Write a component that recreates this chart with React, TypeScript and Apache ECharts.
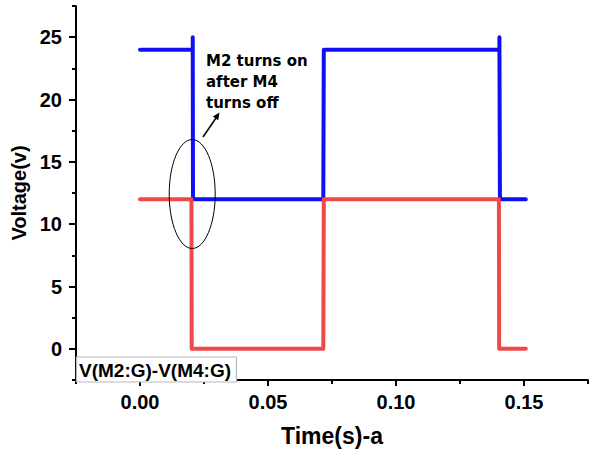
import React, { useEffect, useRef } from "react";
import * as echarts from "echarts";

const blueSeries: [number, number][] = [
  [0, 24], [0.0206, 24], [0.0206, 25], [0.0207, 12], [0.0716, 12], [0.0718, 24],
  [0.1404, 24], [0.1404, 25], [0.1406, 12], [0.1507, 12],
];
const redSeries: [number, number][] = [
  [0, 12], [0.0201, 12], [0.0202, 0], [0.0716, 0], [0.0718, 12],
  [0.1402, 12], [0.1403, 0], [0.1507, 0],
];
const xMajorTicks = [0, 0.05, 0.1, 0.15];
const xMinorTicks = [-0.025, 0.025, 0.075, 0.125, 0.175];
const yMajorTicks = [0, 5, 10, 15, 20, 25];
const yMinorTicks = [-2.5, 2.5, 7.5, 12.5, 17.5, 22.5, 27.5];
const legendText = "V(M2:G)-V(M4:G)";
const annotationText = "M2 turns on\nafter M4\nturns off";

const FONT = "Arial, 'Liberation Sans', sans-serif";

export default function App() {
  const ref = useRef<HTMLDivElement>(null);
  useEffect(() => {
    if (!ref.current) return;
    const chart = echarts.init(ref.current, null, { renderer: "svg" });
    const axisLine = { show: true, onZero: false, lineStyle: { color: "#000", width: 2 } };
    const hiddenAxisLabel = { show: false };
    chart.setOption({
      animation: false,
      backgroundColor: "#fff",
      grid: { left: 76, right: 4, top: 6, bottom: 70 },
      xAxis: [
        {
          type: "value", min: -0.025, max: 0.175,
          name: "Time(s)-a", nameLocation: "middle", nameGap: 44,
          nameTextStyle: { fontFamily: FONT, fontWeight: "bold", fontSize: 23, color: "#000" },
          axisLine,
          axisTick: { show: true, length: 6, customValues: xMajorTicks, lineStyle: { color: "#000", width: 2 } },
          axisLabel: {
            show: true, customValues: xMajorTicks, margin: 12,
            fontFamily: FONT, fontWeight: "bold", fontSize: 20, color: "#000",
            formatter: (v: number) => v.toFixed(2),
          },
          splitLine: { show: false },
        },
        {
          type: "value", min: -0.025, max: 0.175, position: "bottom",
          axisLine: { show: false, onZero: false },
          axisTick: { show: true, length: 4, customValues: xMinorTicks, lineStyle: { color: "#000", width: 2 } },
          axisLabel: hiddenAxisLabel,
          splitLine: { show: false },
        },
      ],
      yAxis: [
        {
          type: "value", min: -2.5, max: 27.5,
          name: "Voltage(v)", nameLocation: "middle", nameGap: 41,
          nameTextStyle: { fontFamily: FONT, fontWeight: "bold", fontSize: 20, color: "#000" },
          axisLine,
          axisTick: { show: true, length: 7, customValues: yMajorTicks, lineStyle: { color: "#000", width: 2 } },
          axisLabel: {
            show: true, customValues: yMajorTicks, margin: 14,
            fontFamily: FONT, fontWeight: "bold", fontSize: 20, color: "#000",
          },
          splitLine: { show: false },
        },
        {
          type: "value", min: -2.5, max: 27.5, position: "left",
          axisLine: { show: false, onZero: false },
          axisTick: { show: true, length: 4, customValues: yMinorTicks, lineStyle: { color: "#000", width: 2 } },
          axisLabel: hiddenAxisLabel,
          splitLine: { show: false },
        },
      ],
      series: [
        {
          type: "line", data: blueSeries, showSymbol: false, symbol: "none",
          lineStyle: { color: "#1010f5", width: 4, cap: "round", join: "round" },
          z: 3,
        },
        {
          type: "line", data: redSeries, showSymbol: false, symbol: "none",
          lineStyle: { color: "#ef4848", width: 4, cap: "round", join: "round" },
          z: 4,
        },
      ],
      graphic: [
        {
          type: "rect", z: 10,
          shape: { x: 76.5, y: 357, width: 160, height: 25 },
          style: { fill: "#fff", stroke: "#b8b8b8", lineWidth: 1.2 },
        },
        {
          type: "text", z: 11, x: 79, y: 370,
          style: {
            text: legendText, fontFamily: FONT, fontWeight: "bold", fontSize: 19,
            fill: "#000", verticalAlign: "middle", align: "left",
          },
        },
        {
          type: "text", z: 11, x: 206, y: 51,
          style: {
            text: annotationText, fontFamily: "'DejaVu Sans', sans-serif", fontWeight: "bold",
            fontSize: 15, lineHeight: 20.7, fill: "#000", align: "left", verticalAlign: "top",
          },
        },
        {
          type: "ellipse", z: 11,
          shape: { cx: 192.2, cy: 194, rx: 23, ry: 54.5 },
          style: { fill: "none", stroke: "#000", lineWidth: 1 },
        },
        {
          type: "line", z: 11,
          shape: { x1: 203, y1: 137, x2: 216, y2: 118 },
          style: { stroke: "#000", lineWidth: 1.5 },
        },
        {
          type: "polygon", z: 11,
          shape: { points: [[219.5, 112.5], [218.2, 120.2], [212.8, 116.4]] },
          style: { fill: "#000" },
        },
      ],
    });
    return () => chart.dispose();
  }, []);
  return <div ref={ref} style={{ position: "fixed", left: 0, top: 0, width: 592, height: 452 }} />;
}
